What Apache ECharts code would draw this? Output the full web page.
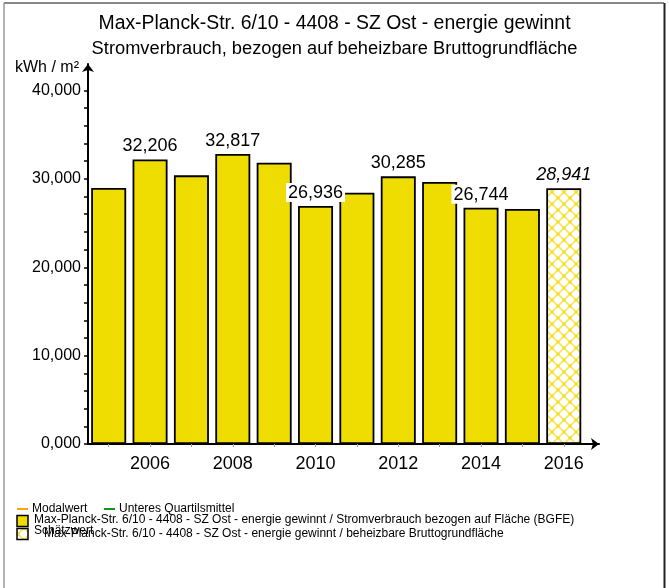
<!DOCTYPE html>
<html>
<head>
<meta charset="utf-8">
<script src="https://cdn.jsdelivr.net/npm/echarts@6/dist/echarts.min.js"></script>
<style>
html,body{margin:0;padding:0;background:#fff;}
#c{width:669px;height:588px;}
</style>
</head>
<body>
<div id="c"></div>
<script>
// ---- data ----
const years = [2005, 2006, 2007, 2008, 2009, 2010, 2011, 2012, 2013, 2014, 2015, 2016];
const values = [28970, 32206, 30400, 32817, 31830, 26936, 28440, 30285, 29650, 26744, 26600, 28941];
const labeledYears = [2006, 2008, 2010, 2012, 2014, 2016];
const estimatedYears = [2016];
const xTickLabels = [2006, 2008, 2010, 2012, 2014, 2016];
const yTickLabels = [0, 10000, 20000, 30000, 40000];
const yMinorTicks = [0, 2000, 4000, 6000, 8000, 10000, 12000, 14000, 16000, 18000, 20000, 22000, 24000, 26000, 28000, 30000, 32000, 34000, 36000, 38000, 40000];
const titleText = 'Max-Planck-Str. 6/10 - 4408 - SZ Ost - energie gewinnt';
const subtitleText = 'Stromverbrauch, bezogen auf beheizbare Bruttogrundfläche';
const unitText = 'kWh / m²';
const legendLines = ['Modalwert', 'Unteres Quartilsmittel'];
const legendSeries = [
  'Max-Planck-Str. 6/10 - 4408 - SZ Ost - energie gewinnt / Stromverbrauch bezogen auf Fläche (BGFE)',
  'Max-Planck-Str. 6/10 - 4408 - SZ Ost - energie gewinnt / beheizbare Bruttogrundfläche'
];
const estimateText = 'Schätzwert';

const FONT = 'Liberation Sans, Arial, sans-serif';
const YELLOW = '#EFDC00';

function fmt(v) { return (v / 1000).toFixed(3).replace('.', ','); }

// hatch pattern
function makeHatch() {
  const s = 12;
  const cv = document.createElement('canvas');
  cv.width = s; cv.height = s;
  const g = cv.getContext('2d');
  g.fillStyle = '#fff'; g.fillRect(0, 0, s, s);
  g.strokeStyle = '#F7E65A'; g.lineWidth = 1.6;
  g.beginPath(); g.moveTo(0, 0); g.lineTo(s, s); g.stroke();
  g.beginPath(); g.moveTo(s, 0); g.lineTo(0, s); g.stroke();
  g.fillStyle = '#F2DF30';
  [[0,0],[s,0],[0,s],[s,s],[s/2,s/2]].forEach(p => { g.beginPath(); g.arc(p[0], p[1], 1.8, 0, Math.PI*2); g.fill(); });
  return cv;
}
const hatch = makeHatch();

const barData = years.map((y, i) => {
  const est = estimatedYears.includes(y);
  const item = { value: [y, values[i]] };
  if (est) item.itemStyle = { color: { image: hatch, repeat: 'repeat' } };
  item.label = { show: labeledYears.includes(y), fontStyle: est ? 'italic' : 'normal' };
  return item;
});

const chart = echarts.init(document.getElementById('c'), null, { renderer: 'canvas' });

const GL = 88, GT = 64, GW = 511, GH = 380;
const pxPerYear = 41.37;

chart.setOption({
  animation: false,
  backgroundColor: '#fff',
  textStyle: { fontFamily: FONT },
  title: [
    { text: titleText, left: 'center', top: 9, textStyle: { fontSize: 19.4, fontWeight: 'normal', color: '#000', fontFamily: FONT } },
    { text: subtitleText, left: 'center', top: 35, textStyle: { fontSize: 18.3, fontWeight: 'normal', color: '#000', fontFamily: FONT } }
  ],
  grid: { left: GL, top: GT, width: GW, height: GH, containLabel: false },
  xAxis: {
    type: 'value',
    min: 2004.5,
    max: 2004.5 + GW / pxPerYear,
    splitLine: { show: false },
    axisLine: { show: true, onZero: false, lineStyle: { color: '#000', width: 2 }, symbol: ['none', 'arrow'], symbolSize: [9, 8] },
    axisTick: { show: true, customValues: years, length: 3, lineStyle: { color: '#999', width: 1 } },
    axisLabel: { customValues: xTickLabels, fontSize: 18, color: '#000', margin: 11, fontFamily: FONT, formatter: v => String(v) }
  },
  yAxis: {
    type: 'value',
    min: 0,
    max: 43000,
    splitLine: { show: false },
    axisLine: { show: true, lineStyle: { color: '#000', width: 2 }, symbol: ['none', 'arrow'], symbolSize: [9, 8] },
    axisTick: { show: true, customValues: yMinorTicks, length: 4, lineStyle: { color: '#000', width: 1.5 } },
    axisLabel: { customValues: yTickLabels, fontSize: 16, color: '#000', margin: 7, fontFamily: FONT, formatter: v => fmt(v) }
  },
  series: [{
    type: 'bar',
    data: barData,
    barWidth: 35,
    itemStyle: { color: YELLOW, borderColor: '#000', borderWidth: 1.8 },
    label: {
      position: 'top',
      distance: 4,
      fontSize: 18,
      color: '#000',
      fontFamily: FONT,
      backgroundColor: '#fff',
      padding: [1, 2, 0, 2],
      formatter: p => fmt(p.value[1])
    }
  }],
  graphic: [
    // frame
    { type: 'line', shape: { x1: 4, y1: 3, x2: 664, y2: 3 }, style: { stroke: '#888', lineWidth: 2 }, silent: true },
    { type: 'line', shape: { x1: 4, y1: 3, x2: 4, y2: 588 }, style: { stroke: '#999', lineWidth: 1.5 }, silent: true },
    { type: 'line', shape: { x1: 664.5, y1: 3, x2: 664.5, y2: 588 }, style: { stroke: '#222', lineWidth: 2 }, silent: true },
    // unit
    { type: 'text', left: 15, top: 60, style: { text: unitText, fontSize: 16, fill: '#000', fontFamily: FONT } },
    // legend lines
    { type: 'line', shape: { x1: 17, y1: 509, x2: 28, y2: 509 }, style: { stroke: '#FFA500', lineWidth: 2 } },
    { type: 'text', left: 32, top: 503, style: { text: legendLines[0], fontSize: 12, fill: '#000', fontFamily: FONT } },
    { type: 'line', shape: { x1: 104, y1: 509, x2: 115, y2: 509 }, style: { stroke: '#119911', lineWidth: 2 } },
    { type: 'text', left: 119, top: 503, style: { text: legendLines[1], fontSize: 12, fill: '#000', fontFamily: FONT } },
    // legend series 1
    { type: 'rect', shape: { x: 17, y: 515.5, width: 11, height: 11 }, style: { fill: YELLOW, stroke: '#000', lineWidth: 1.5 } },
    { type: 'text', left: 34, top: 514, style: { text: legendSeries[0], fontSize: 12, fill: '#000', fontFamily: FONT } },
    // legend series 2 (estimate)
    { type: 'rect', shape: { x: 17, y: 528.5, width: 11, height: 11 }, style: { fill: { image: hatch, repeat: 'repeat' }, stroke: '#000', lineWidth: 1.5 } },
    { type: 'text', left: 44, top: 528, style: { text: legendSeries[1], fontSize: 12, fill: '#000', fontFamily: FONT } },
    { type: 'text', left: 34, top: 525, style: { text: estimateText, fontSize: 12, fill: '#000', fontFamily: FONT } }
  ]
});
</script>
</body>
</html>
